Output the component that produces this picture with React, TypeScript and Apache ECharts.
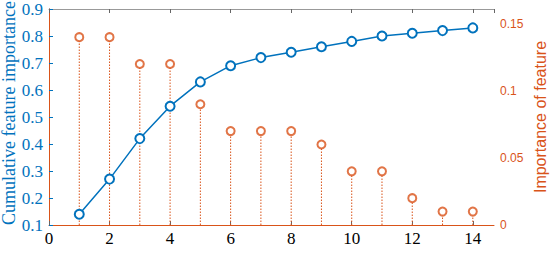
import React, { useEffect, useRef } from "react";
import * as echarts from "echarts";

const features = [1, 2, 3, 4, 5, 6, 7, 8, 9, 10, 11, 12, 13, 14];
const cumulative = [0.14, 0.27, 0.42, 0.54, 0.63, 0.69, 0.72, 0.74, 0.76, 0.78, 0.8, 0.81, 0.82, 0.83];
const importance = [0.14, 0.14, 0.12, 0.12, 0.09, 0.07, 0.07, 0.07, 0.06, 0.04, 0.04, 0.02, 0.01, 0.01];
const leftTitle = "Cumulative feature importance";
const rightTitle = "Importance of feature";

const BLUE = "#0072BD";
const ORANGE = "#D95319";
const SERIF = "Liberation Serif";
const SANS = "Liberation Sans";

export default function App() {
  const ref = useRef<HTMLDivElement>(null);
  useEffect(() => {
    document.body.style.margin = "0";
    const chart = echarts.init(ref.current!, null, { renderer: "svg" });
    const cumData = features.map((f, i) => [f, cumulative[i]]);
    const impData = features.map((f, i) => [f, importance[i]]);
    chart.setOption({
      animation: false,
      backgroundColor: "#ffffff",
      grid: {
        left: 49,
        right: 56,
        top: 9,
        bottom: 28,
        show: false,
        containLabel: false,
        outerBoundsMode: "none",
      },
      graphic: [
        {
          type: "text",
          x: 9,
          y: 113,
          rotation: Math.PI / 2,
          style: {
            text: leftTitle,
            fill: BLUE,
            font: "18px Liberation Serif",
            align: "center",
            verticalAlign: "middle",
          },
        },
        {
          type: "text",
          x: 540,
          y: 117,
          rotation: Math.PI / 2,
          style: {
            text: rightTitle,
            fill: ORANGE,
            font: "16px Liberation Sans",
            align: "center",
            verticalAlign: "middle",
          },
        },
      ],
      xAxis: [
        {
          type: "value",
          min: 0,
          max: 14.7,
          interval: 2,
          position: "bottom",
          axisLine: { show: true, lineStyle: { color: ORANGE, width: 1 } },
          axisTick: { show: true, inside: true, length: 4, lineStyle: { color: "#666" } },
          axisLabel: {
            color: "#000",
            fontFamily: SERIF,
            fontSize: 17,
            margin: 5,
            showMaxLabel: false,
            formatter: (v: number) => (Number.isInteger(v) ? String(v) : ""),
          },
          splitLine: { show: false },
        },
        {
          type: "value",
          min: 0,
          max: 14.7,
          interval: 2,
          position: "top",
          axisLine: { show: true, lineStyle: { color: "#999", width: 1 } },
          axisTick: { show: true, inside: true, length: 4, lineStyle: { color: "#666" } },
          axisLabel: { show: false },
          splitLine: { show: false },
        },
      ],
      yAxis: [
        {
          type: "value",
          min: 0.1,
          max: 0.9,
          interval: 0.1,
          position: "left",
          axisLine: { show: true, lineStyle: { color: BLUE, width: 1 } },
          axisTick: { show: true, inside: true, length: 4, lineStyle: { color: BLUE } },
          axisLabel: {
            color: BLUE,
            fontFamily: SERIF,
            fontSize: 17,
            margin: 6,
            formatter: (v: number) => (Math.round(v * 10) / 10).toFixed(1),
          },
          splitLine: { show: false },
        },
        {
          type: "value",
          min: 0,
          max: 0.161,
          interval: 0.05,
          position: "right",
          axisLine: { show: true, lineStyle: { color: ORANGE, width: 1 } },
          axisTick: { show: false },
          axisLabel: {
            color: ORANGE,
            fontFamily: SANS,
            fontSize: 12,
            margin: 6,
            showMaxLabel: false,
            formatter: (v: number) => String(Math.round(v * 100) / 100),
          },
          splitLine: { show: false },
        },
      ],
      series: [
        {
          type: "custom",
          xAxisIndex: 0,
          yAxisIndex: 1,
          data: impData,
          renderItem: (params: any, api: any) => {
            const x = api.value(0);
            const y = api.value(1);
            const p0 = api.coord([x, 0]);
            const p1 = api.coord([x, y]);
            return {
              type: "line",
              shape: { x1: p0[0], y1: p0[1], x2: p1[0], y2: p1[1] + 4 },
              style: { stroke: ORANGE, lineWidth: 1, lineDash: [1.5, 1.5] },
            };
          },
          z: 1,
        },
        {
          type: "scatter",
          xAxisIndex: 0,
          yAxisIndex: 1,
          data: impData,
          symbol: "emptyCircle",
          symbolSize: 8,
          itemStyle: { color: ORANGE, borderColor: ORANGE, borderWidth: 1 },
          z: 2,
        },
        {
          type: "line",
          xAxisIndex: 0,
          yAxisIndex: 0,
          data: cumData,
          symbol: "emptyCircle",
          symbolSize: 9,
          showAllSymbol: true,
          lineStyle: { color: BLUE, width: 1.5 },
          itemStyle: { color: BLUE, borderColor: BLUE, borderWidth: 1.2 },
          z: 3,
        },
      ],
    });
    return () => chart.dispose();
  }, []);
  return <div ref={ref} style={{ width: 550, height: 253 }} />;
}
